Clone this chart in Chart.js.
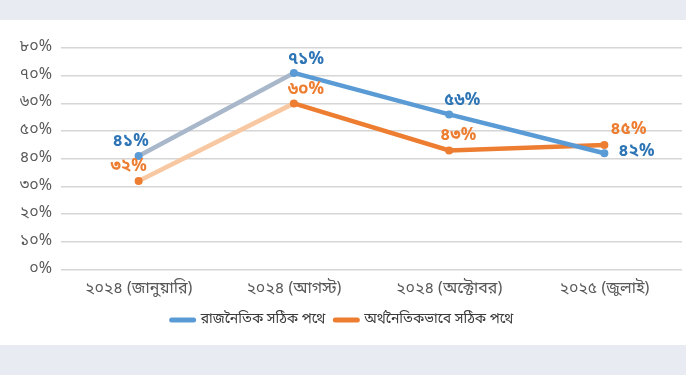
<!DOCTYPE html>
<html>
<head>
<meta charset="utf-8">
<script src="https://cdn.jsdelivr.net/npm/chart.js@4"></script>
<style>
  html, body { margin: 0; padding: 0; }
  body { width: 686px; height: 375px; background: #e9ebf3; position: relative; overflow: hidden; }
  #wrap { position: absolute; left: 0; top: 20px; width: 686px; height: 325px; background: #fff; }
</style>
</head>
<body>
<div id="wrap"><canvas id="chart" width="686" height="325"></canvas></div>
<script>
let categories = ["২০২৪ (জানুয়ারি)", "২০২৪ (আগস্ট)", "২০২৪ (অক্টোবর)", "২০২৫ (জুলাই)"]
let politicalVals = [41, 71, 56, 42]
let economicVals = [32, 60, 43, 45]
let seriesNames = ["রাজনৈতিক সঠিক পথে", "অর্থনৈতিকভাবে সঠিক পথে"]

let bnDigits = "০১২৩৪৫৬৭৮৯"
function bn(n) {
  return String(n).replace(/[0-9]/g, d => bnDigits[d])
}

let bengaliFont = "'Noto Sans Bengali', 'Noto Sans', sans-serif"

// little plugin for the value labels
let labelPlugin = {
  id: "valueLabels",
  afterDatasetsDraw(chart) {
    let ctx = chart.ctx
    ctx.save()
    ctx.font = "bold 17px " + bengaliFont
    ctx.textBaseline = "middle"
    ctx.textAlign = "center"
    chart.data.datasets.forEach((ds, i) => {
      let meta = chart.getDatasetMeta(i)
      meta.data.forEach((pt, j) => {
        let off = ds.labelOffsets[j]
        ctx.fillStyle = ds.labelColor
        ctx.fillText(bn(ds.data[j]) + "%", pt.x + off[0], pt.y + off[1])
      })
    })
    ctx.restore()
  }
}

new Chart(document.getElementById("chart"), {
  type: "line",
  data: {
    labels: categories,
    datasets: [
      {
        label: seriesNames[0],
        data: politicalVals,
        borderColor: "#5b9bd5",
        backgroundColor: "#5b9bd5",
        borderWidth: 4.5,
        borderCapStyle: "round",
        pointRadius: 4,
        pointBackgroundColor: "#5b9bd5",
        pointBorderWidth: 0,
        segment: { borderColor: c => c.p0DataIndex === 0 ? "#a9b7ca" : undefined },
        labelColor: "#2e75b6",
        labelOffsets: [[-8, -13], [12, -12], [13, -13], [32, 0]]
      },
      {
        label: seriesNames[1],
        data: economicVals,
        borderColor: "#ed7d31",
        backgroundColor: "#ed7d31",
        borderWidth: 4.5,
        borderCapStyle: "round",
        pointRadius: 4,
        pointBackgroundColor: "#ed7d31",
        pointBorderWidth: 0,
        segment: { borderColor: c => c.p0DataIndex === 0 ? "#f8c8a2" : undefined },
        labelColor: "#ed7d31",
        labelOffsets: [[-10, -13], [12, -13], [9, -14], [24, -14]]
      }
    ]
  },
  options: {
    responsive: false,
    animation: false,
    layout: { padding: { left: 0, right: 1, top: 28, bottom: 8 } },
    plugins: {
      legend: {
        position: "bottom",
        labels: {
          boxWidth: 22,
          boxHeight: 13,
          padding: 10,
          color: "#3a3a3a",
          font: { family: bengaliFont, size: 14 },
          generateLabels: chart => chart.data.datasets.map((ds, i) => ({
            text: ds.label,
            datasetIndex: i,
            fillStyle: ds.borderColor,
            strokeStyle: ds.borderColor,
            lineWidth: 5,
            lineCap: "round",
            pointStyle: "line",
            fontColor: "#3a3a3a"
          })),
          usePointStyle: true,
          pointStyleWidth: 22
        }
      },
      tooltip: { enabled: false }
    },
    scales: {
      x: {
        offset: true,
        afterFit: s => { s.height = 33.5 },
        grid: { display: false },
        border: { display: false },
        ticks: { color: "#595959", font: { family: bengaliFont, size: 16 }, padding: 3 }
      },
      y: {
        min: 0,
        max: 80,
        afterFit: s => { s.width = 61 },
        grid: { color: "#d6d6d6", lineWidth: 1.5, drawTicks: false },
        border: { display: false },
        ticks: {
          stepSize: 10,
          padding: 9,
          color: "#595959",
          font: { family: bengaliFont, size: 16 },
          callback: v => bn(v) + "%"
        }
      }
    }
  },
  plugins: [labelPlugin]
})
</script>
</body>
</html>
